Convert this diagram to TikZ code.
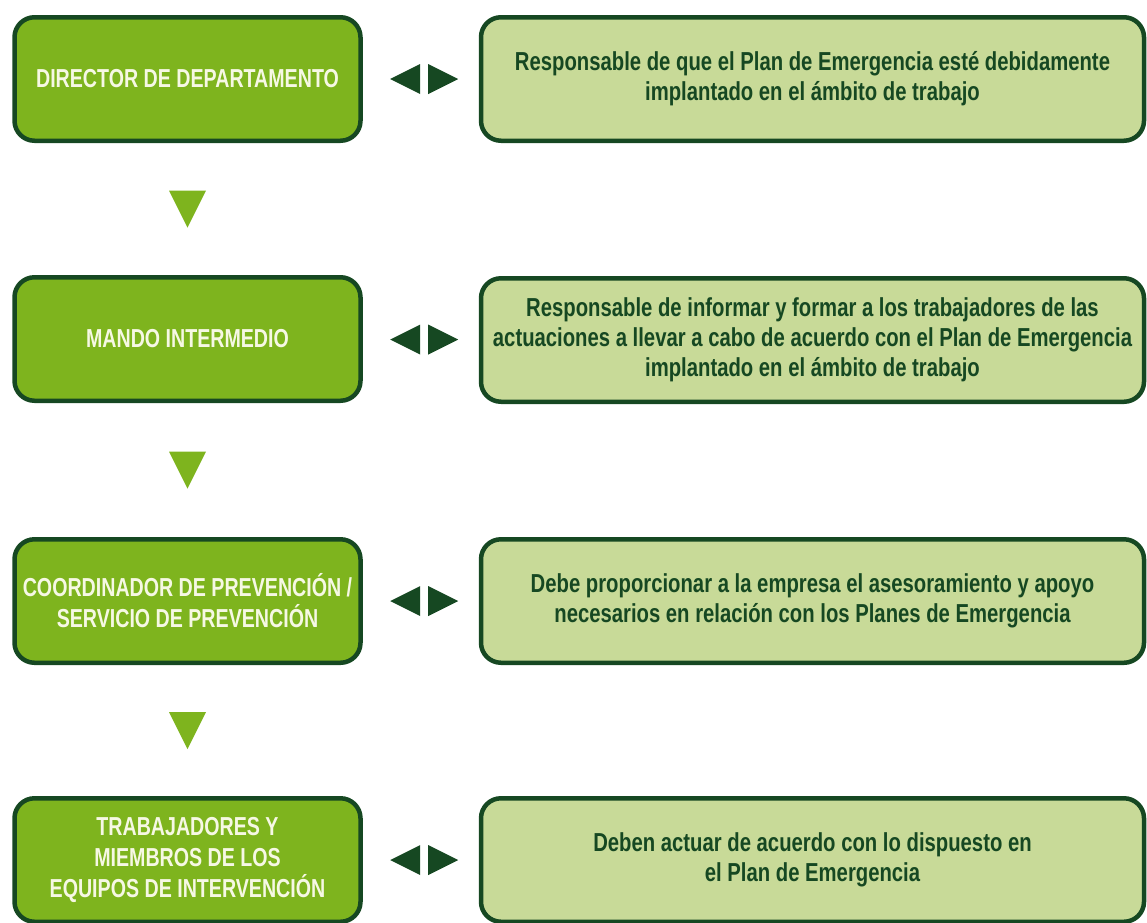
\documentclass[tikz,border=0pt]{standalone}
\usepackage{fontspec}
\setmainfont{Liberation Sans}
\newfontfamily\rolefont{Liberation Sans}[FakeStretch=0.755]
\newfontfamily\taskfont{Liberation Sans}[FakeStretch=0.78]
\usetikzlibrary{positioning,calc}
\definecolor{leafgreen}{RGB}{126,180,30}
\definecolor{palegreen}{RGB}{200,218,152}
\definecolor{darkleaf}{RGB}{22,72,34}
\definecolor{cream}{RGB}{246,248,228}
\tikzset{
    box base/.style={draw=darkleaf,line width=4.5pt,rounded corners=20pt,minimum height=123.5pt,align=center,inner sep=0pt},
    role box/.style={box base,fill=leafgreen,minimum width=346pt,text=cream,font=\rolefont\bfseries\fontsize{26}{31}\selectfont},
    task box/.style={box base,fill=palegreen,minimum width=663pt,text=darkleaf,font=\taskfont\bfseries\fontsize{26}{30}\selectfont},
    down mark/.style={fill=leafgreen},
    link mark/.style={fill=darkleaf},
}

\begin{document}
\begin{tikzpicture}[x=1pt,y=-1pt]
    \useasboundingbox (0,0) rectangle (1147,922);

    \node[role box] (d1) at (187.5,79) {DIRECTOR DE DEPARTAMENTO};
    \node[role box] (d2) at (187.5,339) {MANDO INTERMEDIO};
    \node[role box] (d3) at (187.5,601) {COORDINADOR DE PREVENCIÓN /\\SERVICIO DE PREVENCIÓN};
    \node[role box] (d4) at (187.5,860) {TRABAJADORES Y\\MIEMBROS DE LOS\\EQUIPOS DE INTERVENCIÓN};

    \node[task box] (t1) at (812.5,79) {Responsable de que el Plan de Emergencia esté debidamente\\implantado en el ámbito de trabajo};
    \node[task box] (t2) at (812.5,340) {Responsable de informar y formar a los trabajadores de las\\actuaciones a llevar a cabo de acuerdo con el Plan de Emergencia\\implantado en el ámbito de trabajo};
    \node[task box] (t3) at (812.5,601) {Debe proporcionar a la empresa el asesoramiento y apoyo\\necesarios en relación con los Planes de Emergencia};
    \node[task box] (t4) at (812.5,860) {Deben actuar de acuerdo con lo dispuesto en\\el Plan de Emergencia};

    \foreach \a/\b in {d1/d2,d2/d3,d3/d4}
        \fill[down mark] ($(\a.south)!.5!(\b.north)$) +(-18.5,-18.5) -- +(18.5,-18.5) -- +(0,18.5) -- cycle;

    \foreach \n in {1,...,4}{
        \coordinate (m\n) at ($(d\n.east)!.53!(t\n.west)$);
        \fill[link mark] (m\n) +(-4,-15) -- +(-4,15) -- +(-34,0) -- cycle;
        \fill[link mark] (m\n) +(4,-15) -- +(4,15) -- +(34,0) -- cycle;
    }
\end{tikzpicture}
\end{document}
